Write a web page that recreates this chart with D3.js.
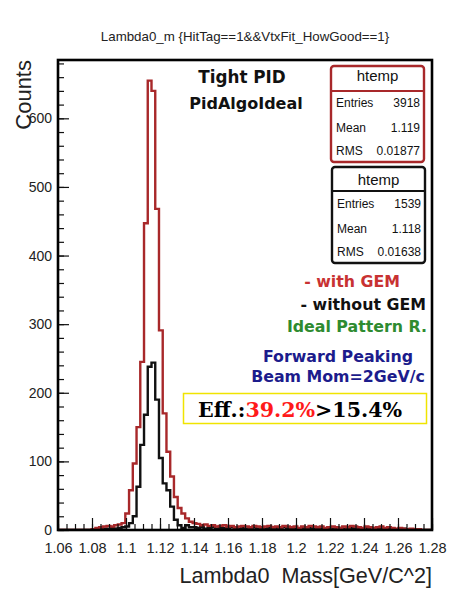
<!DOCTYPE html>
<html>
<head>
<meta charset="utf-8">
<script src="https://cdn.jsdelivr.net/npm/d3@7"></script>
<style>
  html, body { margin: 0; padding: 0; background: #fff; }
  svg { display: block; }
  .sans { font-family: "Liberation Sans", Arial, Helvetica, sans-serif; }
  .bold { font-family: "DejaVu Sans", Verdana, sans-serif; font-weight: bold; }
</style>
</head>
<body>
<svg id="chart" width="456" height="589"></svg>
<script>
// Histogram binning: 100 bins over [1.06, 1.28]
const binLow = 1.06;
const binHigh = 1.28;
const nBins = 100;

// Bin contents, "with GEM" (red)
const withGEM = [
  0, 0, 0, 0, 0, 0, 0, 0, 0, 1,
  3, 4, 5, 6, 5, 7, 8, 10, 24, 58,
  97, 150, 245, 447, 655, 640, 468, 291, 170, 114,
  78, 48, 32, 24, 17, 12, 10, 9, 7, 8,
  6, 7, 5, 6, 7, 5, 6, 4, 5, 6,
  5, 4, 6, 5, 4, 5, 6, 4, 5, 4,
  6, 5, 4, 5, 3, 5, 4, 6, 5, 4,
  5, 3, 4, 5, 4, 3, 5, 4, 6, 5,
  4, 3, 5, 4, 3, 4, 5, 3, 4, 3,
  2, 3, 2, 1, 2, 1, 1, 0, 0, 0
];

// Bin contents, "without GEM" (black)
const withoutGEM = [
  0, 0, 0, 0, 0, 0, 0, 0, 0, 0,
  1, 1, 2, 2, 3, 2, 3, 4, 5, 10,
  20, 63, 124, 168, 238, 244, 190, 105, 68, 58,
  34, 15, 7, 3, 7, 4, 4, 3, 4, 2,
  3, 4, 2, 3, 3, 2, 4, 3, 2, 3,
  2, 3, 4, 2, 3, 2, 3, 2, 3, 2,
  4, 2, 3, 2, 1, 3, 2, 3, 2, 3,
  2, 1, 3, 2, 2, 3, 2, 1, 3, 2,
  2, 1, 3, 2, 2, 1, 2, 2, 1, 2,
  1, 1, 2, 1, 0, 1, 1, 0, 0, 0
];

// Axis ticks
const xMajor = [1.06, 1.08, 1.10, 1.12, 1.14, 1.16, 1.18, 1.20, 1.22, 1.24, 1.26, 1.28];
const xTickLabels = ["1.06", "1.08", "1.1", "1.12", "1.14", "1.16", "1.18", "1.2", "1.22", "1.24", "1.26", "1.28"];
const yMajor = [0, 100, 200, 300, 400, 500, 600];
const yTickLabels = ["0", "100", "200", "300", "400", "500", "600"];
const yTop = 685;

// Statistics boxes
const statsRed = [["Entries", "3918"], ["Mean", "1.119"], ["RMS", "0.01877"]];
const statsBlack = [["Entries", "1539"], ["Mean", "1.118"], ["RMS", "0.01638"]];

const svg = d3.select("#chart");
const red = "#a8282a";

const frame = { left: 58, right: 432, top: 60, bottom: 530 };
const x = d3.scaleLinear().domain([binLow, binHigh]).range([frame.left, frame.right]);
const y = d3.scaleLinear().domain([0, yTop]).range([frame.bottom, frame.top]);

// Title
svg.append("text").attr("class", "sans")
  .attr("x", 245).attr("y", 41)
  .attr("text-anchor", "middle").attr("font-size", 13.3).attr("fill", "#222")
  .text("Lambda0_m {HitTag==1&&VtxFit_HowGood==1}");

// Clip histograms to the frame
svg.append("clipPath").attr("id", "plotclip")
  .append("rect")
  .attr("x", frame.left).attr("y", frame.top)
  .attr("width", frame.right - frame.left).attr("height", frame.bottom - frame.top);

const binW = (binHigh - binLow) / nBins;
function stepPoints(vals) {
  const pts = vals.map((v, i) => [binLow + i * binW, v]);
  pts.push([binHigh, vals[vals.length - 1]]);
  return pts;
}
const line = d3.line()
  .x(d => x(d[0]))
  .y(d => y(d[1]))
  .curve(d3.curveStepAfter);

const plot = svg.append("g").attr("clip-path", "url(#plotclip)");
plot.append("path")
  .attr("d", line(stepPoints(withoutGEM)))
  .attr("fill", "none").attr("stroke", "#111").attr("stroke-width", 2.4);
plot.append("path")
  .attr("d", line(stepPoints(withGEM)))
  .attr("fill", "none").attr("stroke", red).attr("stroke-width", 2.4);

// X axis: major and minor ticks pointing inward
const xMinor = d3.range(0, 45).map(i => binLow + i * 0.005).filter(v => v <= binHigh + 1e-9);
const gxMinor = svg.append("g").attr("transform", `translate(0,${frame.bottom})`)
  .call(d3.axisBottom(x).tickValues(xMinor).tickSize(-6).tickFormat(""));
const gx = svg.append("g").attr("transform", `translate(0,${frame.bottom})`)
  .call(d3.axisBottom(x).tickValues(xMajor).tickSize(-12).tickPadding(13)
    .tickFormat((d, i) => xTickLabels[i]));
[gx, gxMinor].forEach(g => {
  g.select(".domain").remove();
  g.selectAll("line").attr("stroke", "#111").attr("stroke-width", 1.2);
});
gx.selectAll("text").attr("class", "sans").attr("font-size", 14.5).attr("fill", "#222");

// Y axis
const yMinor = d3.range(0, yTop, 20);
const gyMinor = svg.append("g").attr("transform", `translate(${frame.left},0)`)
  .call(d3.axisLeft(y).tickValues(yMinor).tickSize(-6).tickFormat(""));
const gy = svg.append("g").attr("transform", `translate(${frame.left},0)`)
  .call(d3.axisLeft(y).tickValues(yMajor).tickSize(-11).tickPadding(6)
    .tickFormat((d, i) => yTickLabels[i]));
[gy, gyMinor].forEach(g => {
  g.select(".domain").remove();
  g.selectAll("line").attr("stroke", "#111").attr("stroke-width", 1.2);
});
gy.selectAll("text").attr("class", "sans").attr("font-size", 14).attr("fill", "#222");

// Frame
svg.append("rect")
  .attr("x", frame.left).attr("y", frame.top)
  .attr("width", frame.right - frame.left).attr("height", frame.bottom - frame.top)
  .attr("fill", "none").attr("stroke", "#000").attr("stroke-width", 2.6);

// Axis titles
svg.append("text").attr("class", "sans")
  .attr("transform", "translate(31,60) rotate(-90)")
  .attr("text-anchor", "end").attr("font-size", 22).attr("fill", "#222")
  .text("Counts");
svg.append("text").attr("class", "sans")
  .attr("x", 432).attr("y", 583)
  .attr("text-anchor", "end").attr("font-size", 21.6).attr("fill", "#222")
  .text("Lambda0\u00a0\u00a0Mass[GeV/C^2]");

// Selection labels
svg.append("text").attr("class", "bold")
  .attr("x", 242).attr("y", 83).attr("text-anchor", "middle")
  .attr("font-size", 16.8).attr("fill", "#111").text("Tight PID");
svg.append("text").attr("class", "bold")
  .attr("x", 246).attr("y", 109).attr("text-anchor", "middle")
  .attr("font-size", 16).attr("fill", "#111").text("PidAlgoIdeal");

// Statistics boxes
function statBox(x0, y0, color, rows, rowYs, headY, divY) {
  const g = svg.append("g");
  g.append("rect")
    .attr("x", x0).attr("y", y0).attr("width", 93).attr("height", 96)
    .attr("rx", 3).attr("fill", "#fff").attr("stroke", color).attr("stroke-width", 2.4);
  g.append("line")
    .attr("x1", x0).attr("x2", x0 + 93).attr("y1", divY).attr("y2", divY)
    .attr("stroke", color).attr("stroke-width", 2);
  g.append("text").attr("class", "sans")
    .attr("x", x0 + 46.5).attr("y", headY).attr("text-anchor", "middle")
    .attr("font-size", 15).attr("fill", "#111").text("htemp");
  rows.forEach((r, i) => {
    g.append("text").attr("class", "sans")
      .attr("x", x0 + 5).attr("y", rowYs[i])
      .attr("font-size", 12).attr("fill", "#111").text(r[0]);
    g.append("text").attr("class", "sans")
      .attr("x", x0 + 89).attr("y", rowYs[i]).attr("text-anchor", "end")
      .attr("font-size", 12).attr("fill", "#111").text(r[1]);
  });
}
statBox(331, 66, red, statsRed, [107, 132, 155], 81, 91);
statBox(332, 167, "#111", statsBlack, [208, 233, 256], 185, 191);

// Legend notes
const notes = [
  { t: "- with GEM", x: 400, y: 287, c: "#c83232", a: "end" },
  { t: "- without GEM", x: 426, y: 310, c: "#111", a: "end" },
  { t: "Ideal Pattern R.", x: 427, y: 332, c: "#2e8b30", a: "end" },
  { t: "Forward Peaking", x: 338, y: 362, c: "#1c1c8c", a: "middle" },
  { t: "Beam Mom=2GeV/c", x: 338, y: 382, c: "#1c1c8c", a: "middle" }
];
notes.forEach(n => {
  svg.append("text").attr("class", "bold")
    .attr("x", n.x).attr("y", n.y).attr("text-anchor", n.a)
    .attr("font-size", 15.8).attr("fill", n.c).text(n.t);
});

// Efficiency box
svg.append("rect")
  .attr("x", 183.5).attr("y", 393.5).attr("width", 243).attr("height", 30)
  .attr("fill", "#fff").attr("stroke", "#f0e400").attr("stroke-width", 1.5);
const eff = svg.append("text")
  .attr("x", 198).attr("y", 416.5)
  .attr("font-family", "'DejaVu Serif', serif").attr("font-weight", "bold")
  .attr("font-size", 20.6);
eff.append("tspan").attr("fill", "#000").text("Eff.:");
eff.append("tspan").attr("fill", "#ff1a1a").text("39.2%");
eff.append("tspan").attr("fill", "#000").text(">15.4%");
</script>
</body>
</html>
